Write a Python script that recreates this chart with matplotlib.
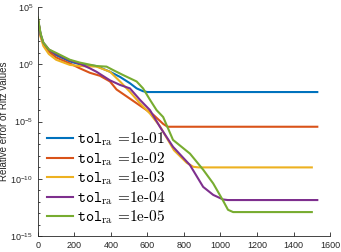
import numpy as np
import matplotlib
matplotlib.use("Agg")
import matplotlib.pyplot as plt
from matplotlib.ticker import LogLocator, NullFormatter

plt.rcParams['font.family'] = ['Liberation Sans', 'DejaVu Sans']
plt.rcParams['mathtext.fontset'] = 'cm'

# iteration number vs log10(relative error)
x_1 = [0, 15, 30, 60, 100, 175, 230, 321, 395, 450, 504, 541, 576, 600, 1530]
y_1 = [4.0, 2.6, 1.8, 1.2, 0.8, 0.25, 0.0, -0.15, -0.65, -1.1, -1.65, -2.1, -2.35, -2.42, -2.42]

x_2 = [0, 15, 30, 60, 100, 175, 230, 285, 340, 395, 431, 486, 559, 632, 686, 710, 1530]
y_2 = [4.0, 2.5, 1.8, 1.1, 0.6, 0.08, -0.35, -0.74, -1.0, -1.5, -2.2, -2.8, -3.6, -4.4, -5.2, -5.45, -5.45]

x_3 = [0, 15, 30, 60, 100, 175, 230, 321, 395, 450, 504, 559, 614, 668, 745, 815, 852, 880, 1500]
y_3 = [4.0, 2.4, 1.6, 0.9, 0.4, -0.05, -0.15, -0.2, -0.65, -1.5, -2.4, -3.4, -4.3, -5.4, -7.5, -8.6, -8.95, -9.0, -9.0]

x_4 = [0, 15, 30, 60, 100, 175, 230, 285, 321, 395, 450, 504, 559, 614, 668, 740, 833, 905, 960, 1014, 1040, 1530]
y_4 = [4.0, 2.6, 1.9, 1.3, 0.9, 0.35, 0.05, -0.35, -0.65, -1.4, -1.8, -2.1, -3.1, -4.0, -5.45, -7.2, -8.8, -10.7, -11.4, -11.8, -11.85, -11.85]

x_5 = [0, 15, 30, 60, 100, 175, 230, 321, 376, 412, 466, 541, 576, 614, 650, 686, 740, 833, 905, 960, 1014, 1041, 1069, 1500]
y_5 = [4.1, 2.7, 1.9, 1.3, 1.0, 0.4, 0.15, -0.15, -0.2, -0.5, -0.93, -1.5, -2.1, -3.1, -4.0, -4.6, -6.6, -7.8, -9.2, -10.4, -11.9, -12.7, -12.9, -12.9]

tols = ['1e-01', '1e-02', '1e-03', '1e-04', '1e-05']
colors = ['#0072BD', '#D95319', '#EDB120', '#7E2F8E', '#77AC30']

fig = plt.figure(figsize=(3.41, 2.52), dpi=100)
ax = fig.add_axes([0.111, 0.063, 0.857, 0.909])

series = [(x_1, y_1), (x_2, y_2), (x_3, y_3), (x_4, y_4), (x_5, y_5)]
for (xs, ys), tol, c in zip(series, tols, colors):
    ax.semilogy(xs, np.power(10.0, ys), color=c, lw=1.5,
                label=r'$\mathtt{tol}_{\mathrm{ra}}$ =' + tol)

ax.set_xlim(0, 1600)
ax.set_ylim(1e-15, 1e5)
ax.set_xticks(range(0, 1601, 200))
ax.set_yticks([1e-15, 1e-10, 1e-5, 1e0, 1e5])
ax.yaxis.set_minor_locator(LogLocator(base=10, subs=[1.0], numticks=30))
ax.yaxis.set_minor_formatter(NullFormatter())

for s in ['top', 'right']:
    ax.spines[s].set_visible(False)
for s in ['left', 'bottom']:
    ax.spines[s].set_color('#262626')
    ax.spines[s].set_linewidth(0.6)
ax.tick_params(which='both', direction='in', colors='#262626', labelsize=6.5, width=0.6)
ax.tick_params(which='major', length=3)
ax.tick_params(which='minor', length=1.5)
ax.set_ylabel('Relative error of Ritz values', fontsize=7, color='#262626')
ax.yaxis.set_label_coords(-0.1, 0.5)

ax.legend(loc='upper left', bbox_to_anchor=(0.0, 0.50), frameon=False,
          prop={'family': 'cmr10', 'size': 11},
          handlelength=1.7, handletextpad=0.25, labelspacing=0.12, borderaxespad=0.2)

fig.savefig('out.png', dpi=100)
